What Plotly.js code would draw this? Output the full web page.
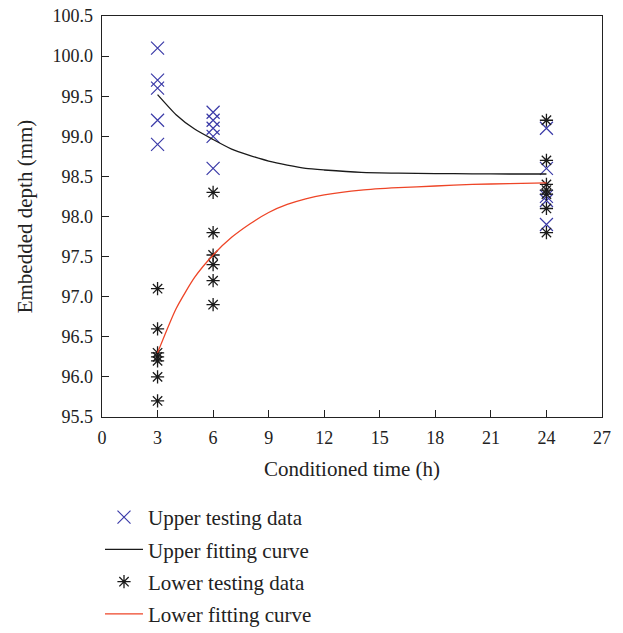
<!DOCTYPE html>
<html>
<head>
<meta charset="utf-8">
<script src="https://cdn.plot.ly/plotly-3.0.1.min.js"></script>
<style>html,body{margin:0;padding:0;background:#fff;}#chart{width:623px;height:633px;}</style>
</head>
<body>
<div id="chart"></div>
<script>
// Upper testing data
var upperX = [3, 3, 3, 3, 3, 6, 6, 6, 6, 6, 24, 24, 24, 24, 24];
var upperY = [100.1, 99.7, 99.6, 99.2, 98.9, 99.3, 99.2, 99.1, 99.0, 98.6, 99.1, 98.6, 98.25, 98.2, 97.9];
// Lower testing data
var lowerX = [3, 3, 3, 3, 3, 3, 3, 6, 6, 6, 6, 6, 6, 24, 24, 24, 24, 24, 24, 24];
var lowerY = [97.1, 96.6, 96.3, 96.25, 96.2, 96.0, 95.7, 98.3, 97.8, 97.52, 97.4, 97.2, 96.9, 99.2, 98.7, 98.4, 98.33, 98.1, 97.8, 98.28];
// Fitting curves
var curveX = [3, 4, 5, 6, 7, 8, 9, 10, 11, 12, 14, 16, 18, 20, 22, 24];
var upperFit = [99.52, 99.27, 99.09, 98.96, 98.84, 98.76, 98.69, 98.64, 98.60, 98.58, 98.55, 98.54, 98.535, 98.532, 98.53, 98.53];
var lowerFit = [96.30, 96.85, 97.24, 97.52, 97.74, 97.91, 98.05, 98.15, 98.22, 98.27, 98.33, 98.36, 98.38, 98.40, 98.41, 98.42];
var names = ["Upper testing data", "Upper fitting curve", "Lower testing data", "Lower fitting curve"];
var xTicks = [0, 3, 6, 9, 12, 15, 18, 21, 24, 27];
var yTicks = [95.5, 96.0, 96.5, 97.0, 97.5, 98.0, 98.5, 99.0, 99.5, 100.0, 100.5];

var FONT = "Liberation Serif, DejaVu Serif, serif";
var traces = [
  {x: upperX, y: upperY, mode: "markers", type: "scatter", name: names[0], legendgroup: "a",
   marker: {symbol: "x-thin-open", size: 13, color: "#3b3ba8", line: {width: 1.2, color: "#3b3ba8"}}},
  {x: curveX, y: upperFit, mode: "lines", type: "scatter", name: names[1], legendgroup: "b",
   line: {color: "#1a1a1a", width: 1.3, shape: "spline", smoothing: 0.6}},
  {x: lowerX, y: lowerY, mode: "markers", type: "scatter", name: names[2], legendgroup: "c",
   marker: {symbol: "asterisk-open", size: 11, color: "#1a1a1a", line: {width: 1.3, color: "#1a1a1a"}}},
  {x: curveX, y: lowerFit, mode: "lines", type: "scatter", name: names[3], legendgroup: "d",
   line: {color: "#ee4527", width: 1.3, shape: "spline", smoothing: 0.6}}
];

var axisCommon = {
  showgrid: false, zeroline: false, showline: true, linecolor: "#222", linewidth: 1.3,
  mirror: true, ticks: "inside", ticklen: 7, tickcolor: "#222", tickwidth: 1.2,
  tickfont: {family: FONT, size: 18, color: "#222"}
};

var layout = {
  width: 623, height: 633,
  margin: {l: 102, r: 21, t: 16, b: 216},
  paper_bgcolor: "#fff", plot_bgcolor: "#fff",
  showlegend: true,
  font: {family: FONT, color: "#222"},
  xaxis: Object.assign({}, axisCommon, {
    range: [0, 27], tickvals: xTicks, ticktext: xTicks.map(String), ticklabelstandoff: 4,
    title: {text: "Conditioned time (h)", font: {family: FONT, size: 21, color: "#222"}, standoff: 14}
  }),
  yaxis: Object.assign({}, axisCommon, {
    range: [95.5, 100.5], tickvals: yTicks, ticktext: yTicks.map(function(v){return v.toFixed(1);}),
    ticklabelstandoff: 4,
    title: {text: "Embedded depth (mm)", font: {family: FONT, size: 21, color: "#222"}, standoff: 14}
  }),
  legend: {
    x: -0.004, xanchor: "left", xref: "paper", y: 0.215, yanchor: "top", yref: "container",
    font: {family: FONT, size: 21, color: "#222"},
    traceorder: "grouped", tracegroupgap: 2, itemwidth: 38,
    bgcolor: "rgba(0,0,0,0)"
  }
};

Plotly.newPlot("chart", traces, layout, {displayModeBar: false, staticPlot: true});
</script>
</body>
</html>
